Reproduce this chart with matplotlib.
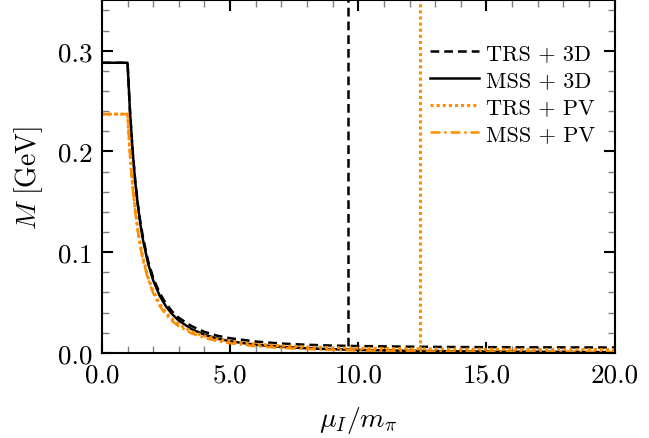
import numpy as np
import matplotlib
matplotlib.use("Agg")
import matplotlib.pyplot as plt
from matplotlib.ticker import MultipleLocator, FormatStrFormatter

plt.rcParams['font.family'] = 'serif'
plt.rcParams['font.serif'] = ['cmr10']
plt.rcParams['mathtext.fontset'] = 'cm'
plt.rcParams['axes.formatter.use_mathtext'] = True

# mu_I / m_pi
mu = [0.0, 1.0, 1.1, 1.2, 1.3, 1.4, 1.5, 1.6, 1.8, 2.0, 2.25, 2.5, 2.75, 3.0,
      3.5, 4.0, 4.5, 5.0, 6.0, 7.0, 8.0, 9.0, 10.0, 12.0, 14.0, 16.0, 18.0, 20.0]

# M [GeV]
m_trs_3d = [0.288, 0.288, 0.238, 0.200, 0.171, 0.148, 0.130, 0.115, 0.0915, 0.0745,
            0.0595, 0.0488, 0.0408, 0.0348, 0.0265, 0.0208, 0.0170, 0.0145, 0.0112,
            0.0092, 0.0080, 0.0072, 0.0067, 0.0061, 0.0057, 0.0055, 0.0054, 0.0053]
m_mss_3d = [0.288, 0.288, 0.238, 0.200, 0.170, 0.147, 0.128, 0.1125, 0.0889, 0.072,
            0.0569, 0.0461, 0.0381, 0.032, 0.0235, 0.018, 0.0142, 0.0115, 0.0080,
            0.0059, 0.0045, 0.0036, 0.0029, 0.0020, 0.0015, 0.0011, 0.0009, 0.0007]
m_trs_pv = [0.237, 0.237, 0.197, 0.166, 0.142, 0.123, 0.107, 0.0945, 0.0750, 0.0612,
            0.0487, 0.0398, 0.0332, 0.0283, 0.0212, 0.0167, 0.0136, 0.0114, 0.0086,
            0.0069, 0.0058, 0.0051, 0.0046, 0.0040, 0.0037, 0.0035, 0.0034, 0.0033]
m_mss_pv = [0.237, 0.237, 0.196, 0.1646, 0.140, 0.121, 0.105, 0.0926, 0.0731, 0.0593,
            0.0468, 0.0379, 0.0313, 0.0263, 0.0193, 0.0148, 0.0117, 0.0095, 0.0066,
            0.0048, 0.0037, 0.0029, 0.0024, 0.0016, 0.0012, 0.0009, 0.0007, 0.0006]

# transition points
mu_c_trs_3d = 9.6
m_c_trs_3d = 0.0068
mu_c_trs_pv = 12.4
m_c_trs_pv = 0.0039

orange = '#ff8c00'
dashed = (0, (3.5, 2))
dotted = (0, (1, 1))
dashdot = (0, (4, 1.5, 1, 1.5))

fig = plt.figure(figsize=(6.49, 4.39), dpi=100)
ax = fig.add_axes([0.157, 0.194, 0.790, 0.803])

ax.plot(mu, m_trs_3d, color='black', ls=dashed, lw=1.8, label='TRS + 3D')
ax.plot(mu, m_mss_3d, color='black', ls='-', lw=1.8, label='MSS + 3D')
ax.plot(mu, m_trs_pv, color=orange, ls=dotted, lw=2.2, label='TRS + PV')
ax.plot(mu, m_mss_pv, color=orange, ls=dashdot, lw=1.8, label='MSS + PV')

ax.vlines(mu_c_trs_3d, m_c_trs_3d, 0.4, color='black', ls=dashed, lw=1.8)
ax.vlines(mu_c_trs_pv, m_c_trs_pv, 0.4, color=orange, ls=dotted, lw=2.2)

ax.set_xlim(0, 20)
ax.set_ylim(0, 0.35)
ax.xaxis.set_major_locator(MultipleLocator(5))
ax.xaxis.set_minor_locator(MultipleLocator(1))
ax.yaxis.set_major_locator(MultipleLocator(0.1))
ax.yaxis.set_minor_locator(MultipleLocator(0.02))
ax.xaxis.set_major_formatter(FormatStrFormatter('%.1f'))
ax.yaxis.set_major_formatter(FormatStrFormatter('%.1f'))

ax.tick_params(which='both', direction='in', top=True, right=True)
ax.tick_params(which='major', length=8, width=1.5, labelsize=19.5, pad=7)
ax.tick_params(which='minor', length=5, width=1.0, color='grey')
for s in ax.spines.values():
    s.set_linewidth(1.5)

ax.set_xlabel(r'$\mu_I/m_\pi$', fontsize=20, labelpad=13)
ax.set_ylabel(r'$M\ [\mathrm{GeV}]$', fontsize=20, labelpad=9)

ax.legend(loc='upper right', frameon=False, fontsize=16, handlelength=2.2,
          bbox_to_anchor=(1.0, 0.935), labelspacing=0.34, handletextpad=0.3)

fig.savefig('out.png', dpi=100)
